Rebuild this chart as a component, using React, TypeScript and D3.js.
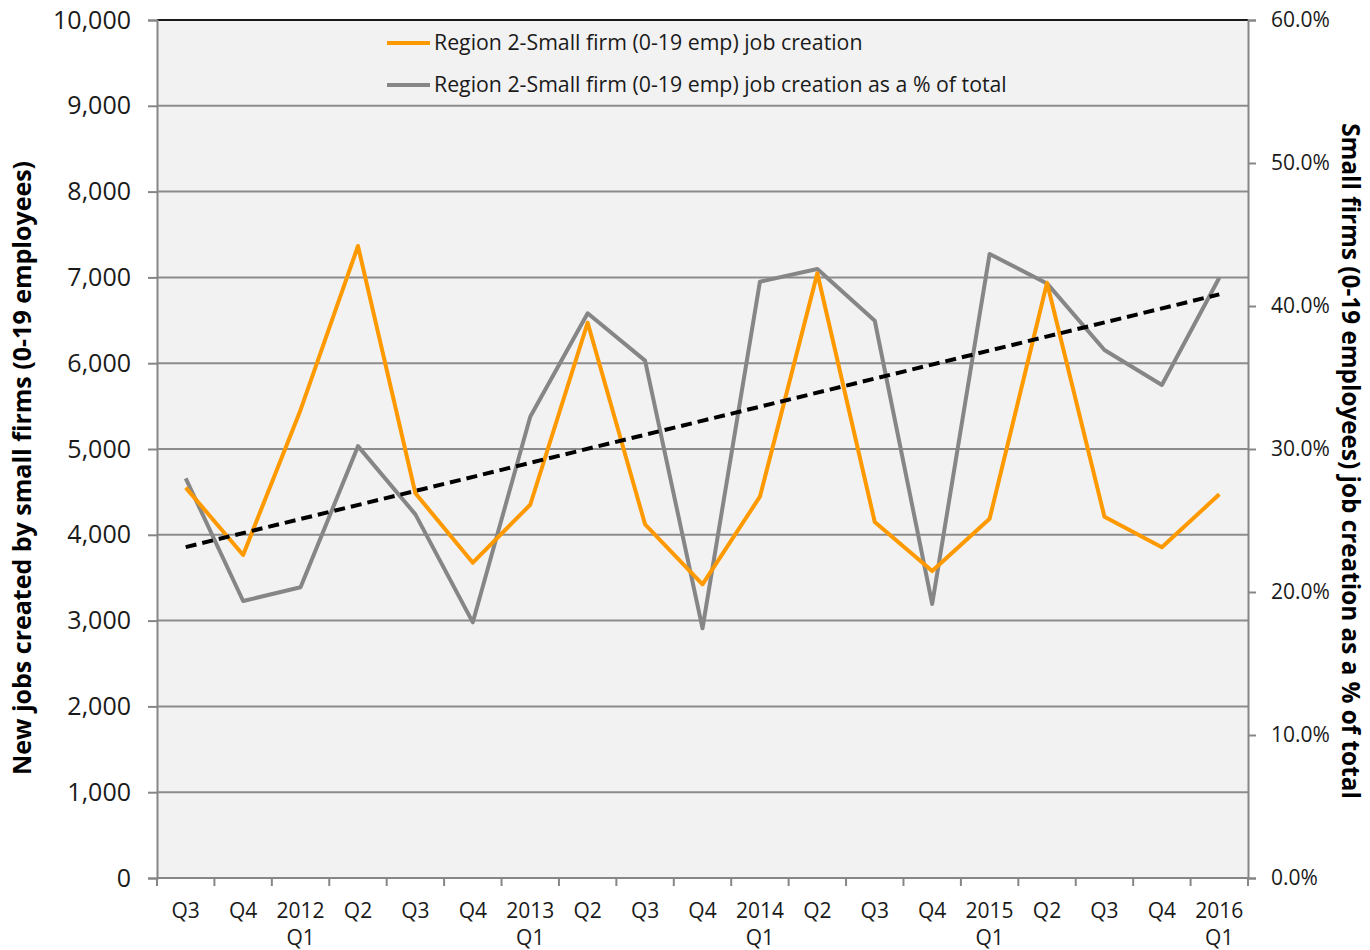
import React, { useRef, useEffect } from 'react';
import * as d3 from 'd3';

const quarters = [
  'Q3', 'Q4', '2012 Q1', 'Q2', 'Q3', 'Q4', '2013 Q1', 'Q2', 'Q3', 'Q4',
  '2014 Q1', 'Q2', 'Q3', 'Q4', '2015 Q1', 'Q2', 'Q3', 'Q4', '2016 Q1',
];
const jobCreation = [
  4550, 3765, 5455, 7366, 4484, 3675, 4350, 6472, 4122, 3423,
  4444, 7048, 4149, 3578, 4188, 6938, 4211, 3854, 4472,
];
const pctOfTotal = [
  27.95, 19.37, 20.33, 30.2, 25.43, 17.88, 32.26, 39.49, 36.18, 17.46,
  41.7, 42.59, 38.97, 19.16, 43.64, 41.58, 36.92, 34.48, 41.98,
];
const leftTicks = [0, 1000, 2000, 3000, 4000, 5000, 6000, 7000, 8000, 9000, 10000];
const rightTicks = [0, 10, 20, 30, 40, 50, 60];
const seriesNames = [
  'Region 2-Small firm (0-19 emp) job creation',
  'Region 2-Small firm (0-19 emp) job creation as a % of total',
];
const leftTitle = 'New jobs created by small firms (0-19 employees)';
const rightTitle = 'Small firms (0-19 employees) job creation as a % of total';

const W = 1370;
const H = 950;
const FONT = "'Open Sans', 'Noto Sans', sans-serif";
const ORANGE = '#ff9900';
const GREY = '#868686';

const App = () => {
  const svgRef = useRef<SVGSVGElement>(null);

  useEffect(() => {
    const svg = d3.select(svgRef.current);
    svg.selectAll('*').remove();

    const left = 157, right = 1248, top = 20, bottom = 878;

    const x = d3.scaleBand<number>().domain(d3.range(quarters.length)).range([left, right]);
    const cx = (i: number) => (x(i) as number) + x.bandwidth() / 2;
    const yL = d3.scaleLinear().domain([0, 10000]).range([bottom, top]);
    const yR = d3.scaleLinear().domain([0, 60]).range([bottom, top]);

    // plot background
    svg.append('rect')
      .attr('x', left).attr('y', top)
      .attr('width', right - left).attr('height', bottom - top)
      .attr('fill', '#f2f2f2');

    // gridlines
    svg.append('g')
      .selectAll('line')
      .data(leftTicks.slice(1, -1))
      .enter()
      .append('line')
      .attr('x1', left).attr('x2', right)
      .attr('y1', d => yL(d)).attr('y2', d => yL(d))
      .attr('stroke', '#8c8c8c').attr('stroke-width', 2);

    svg.append('line')
      .attr('x1', left).attr('x2', right).attr('y1', top).attr('y2', top)
      .attr('stroke', '#1a1a1a').attr('stroke-width', 2);

    // left axis
    const gL = svg.append('g')
      .attr('transform', `translate(${left},0)`)
      .call(d3.axisLeft(yL).tickValues(leftTicks).tickSize(9).tickPadding(17).tickFormat(d3.format(',')));
    gL.select('.domain').attr('stroke', GREY).attr('stroke-width', 2);
    gL.selectAll('.tick line').attr('stroke', GREY).attr('stroke-width', 2);
    gL.selectAll('.tick text').attr('font-family', FONT).attr('font-size', 25).attr('fill', '#1a1a1a');

    // right axis
    const gR = svg.append('g')
      .attr('transform', `translate(${right},0)`)
      .call(d3.axisRight(yR).tickValues(rightTicks).tickSize(8).tickPadding(15).tickFormat(d => `${(+d).toFixed(1)}%`));
    gR.select('.domain').attr('stroke', GREY).attr('stroke-width', 2);
    gR.selectAll('.tick line').attr('stroke', GREY).attr('stroke-width', 2);
    gR.selectAll('.tick text').attr('font-family', FONT).attr('font-size', 21).attr('fill', '#1a1a1a');

    // bottom axis
    const gB = svg.append('g').attr('transform', `translate(0,${bottom})`);
    gB.append('line').attr('x1', left).attr('x2', right)
      .attr('stroke', GREY).attr('stroke-width', 2);
    gB.selectAll('.bt')
      .data(d3.range(quarters.length + 1))
      .enter()
      .append('line')
      .attr('x1', i => left + i * x.step()).attr('x2', i => left + i * x.step())
      .attr('y1', 0).attr('y2', 8)
      .attr('stroke', GREY).attr('stroke-width', 2);
    const lbl = gB.selectAll('.bl')
      .data(quarters)
      .enter()
      .append('text')
      .attr('text-anchor', 'middle')
      .attr('font-family', FONT).attr('font-size', 21).attr('fill', '#1a1a1a')
      .attr('transform', (d, i) => `translate(${cx(i)},0)`);
    lbl.each(function (d) {
      const parts = d.split(' ');
      const t = d3.select(this);
      t.append('tspan').attr('x', 0).attr('y', 40).text(parts[0]);
      if (parts[1]) t.append('tspan').attr('x', 0).attr('y', 67).text(parts[1]);
    });

    // series
    const lineL = d3.line<number>().x((d, i) => cx(i)).y(d => yL(d));
    const lineR = d3.line<number>().x((d, i) => cx(i)).y(d => yR(d));

    svg.append('path').datum(pctOfTotal)
      .attr('d', lineR).attr('fill', 'none')
      .attr('stroke', GREY).attr('stroke-width', 4).attr('stroke-linejoin', 'round');
    svg.append('path').datum(jobCreation)
      .attr('d', lineL).attr('fill', 'none')
      .attr('stroke', ORANGE).attr('stroke-width', 4).attr('stroke-linejoin', 'round');

    // linear trendline of the % series
    const n = pctOfTotal.length;
    const mx = d3.mean(d3.range(n)) as number;
    const my = d3.mean(pctOfTotal) as number;
    const slope = d3.sum(pctOfTotal, (v, i) => (i - mx) * (v - my)) / d3.sum(d3.range(n), i => (i - mx) ** 2);
    const trend = [0, n - 1].map(i => ({ i, v: my + slope * (i - mx) }));
    svg.append('path').datum(trend)
      .attr('d', d3.line<{ i: number; v: number }>().x(d => cx(d.i)).y(d => yR(d.v)))
      .attr('fill', 'none').attr('stroke', '#000').attr('stroke-width', 4)
      .attr('stroke-dasharray', '11,6');

    // legend
    const legend = svg.append('g');
    [ORANGE, GREY].forEach((c, k) => {
      const ly = 43 + k * 42;
      legend.append('line').attr('x1', 387).attr('x2', 430).attr('y1', ly).attr('y2', ly)
        .attr('stroke', c).attr('stroke-width', 4);
      legend.append('text').attr('x', 434).attr('y', ly).attr('dy', '0.35em')
        .attr('font-family', FONT).attr('font-size', 21.3).attr('fill', '#1a1a1a')
        .text(seriesNames[k]);
    });

    // axis titles
    svg.append('text')
      .attr('transform', `translate(22,468) rotate(-90)`)
      .attr('text-anchor', 'middle').attr('dy', '0.35em')
      .attr('font-family', FONT).attr('font-size', 25).attr('font-weight', 'bold').attr('fill', '#000')
      .text(leftTitle);
    svg.append('text')
      .attr('transform', `translate(1351,461) rotate(90)`)
      .attr('text-anchor', 'middle').attr('dy', '0.35em')
      .attr('font-family', FONT).attr('font-size', 24.3).attr('font-weight', 'bold').attr('fill', '#000')
      .text(rightTitle);
  }, []);

  return (
    <svg ref={svgRef} width={W} height={H}
      style={{ position: 'absolute', left: 0, top: 0, background: '#fff' }} />
  );
};

export default App;
